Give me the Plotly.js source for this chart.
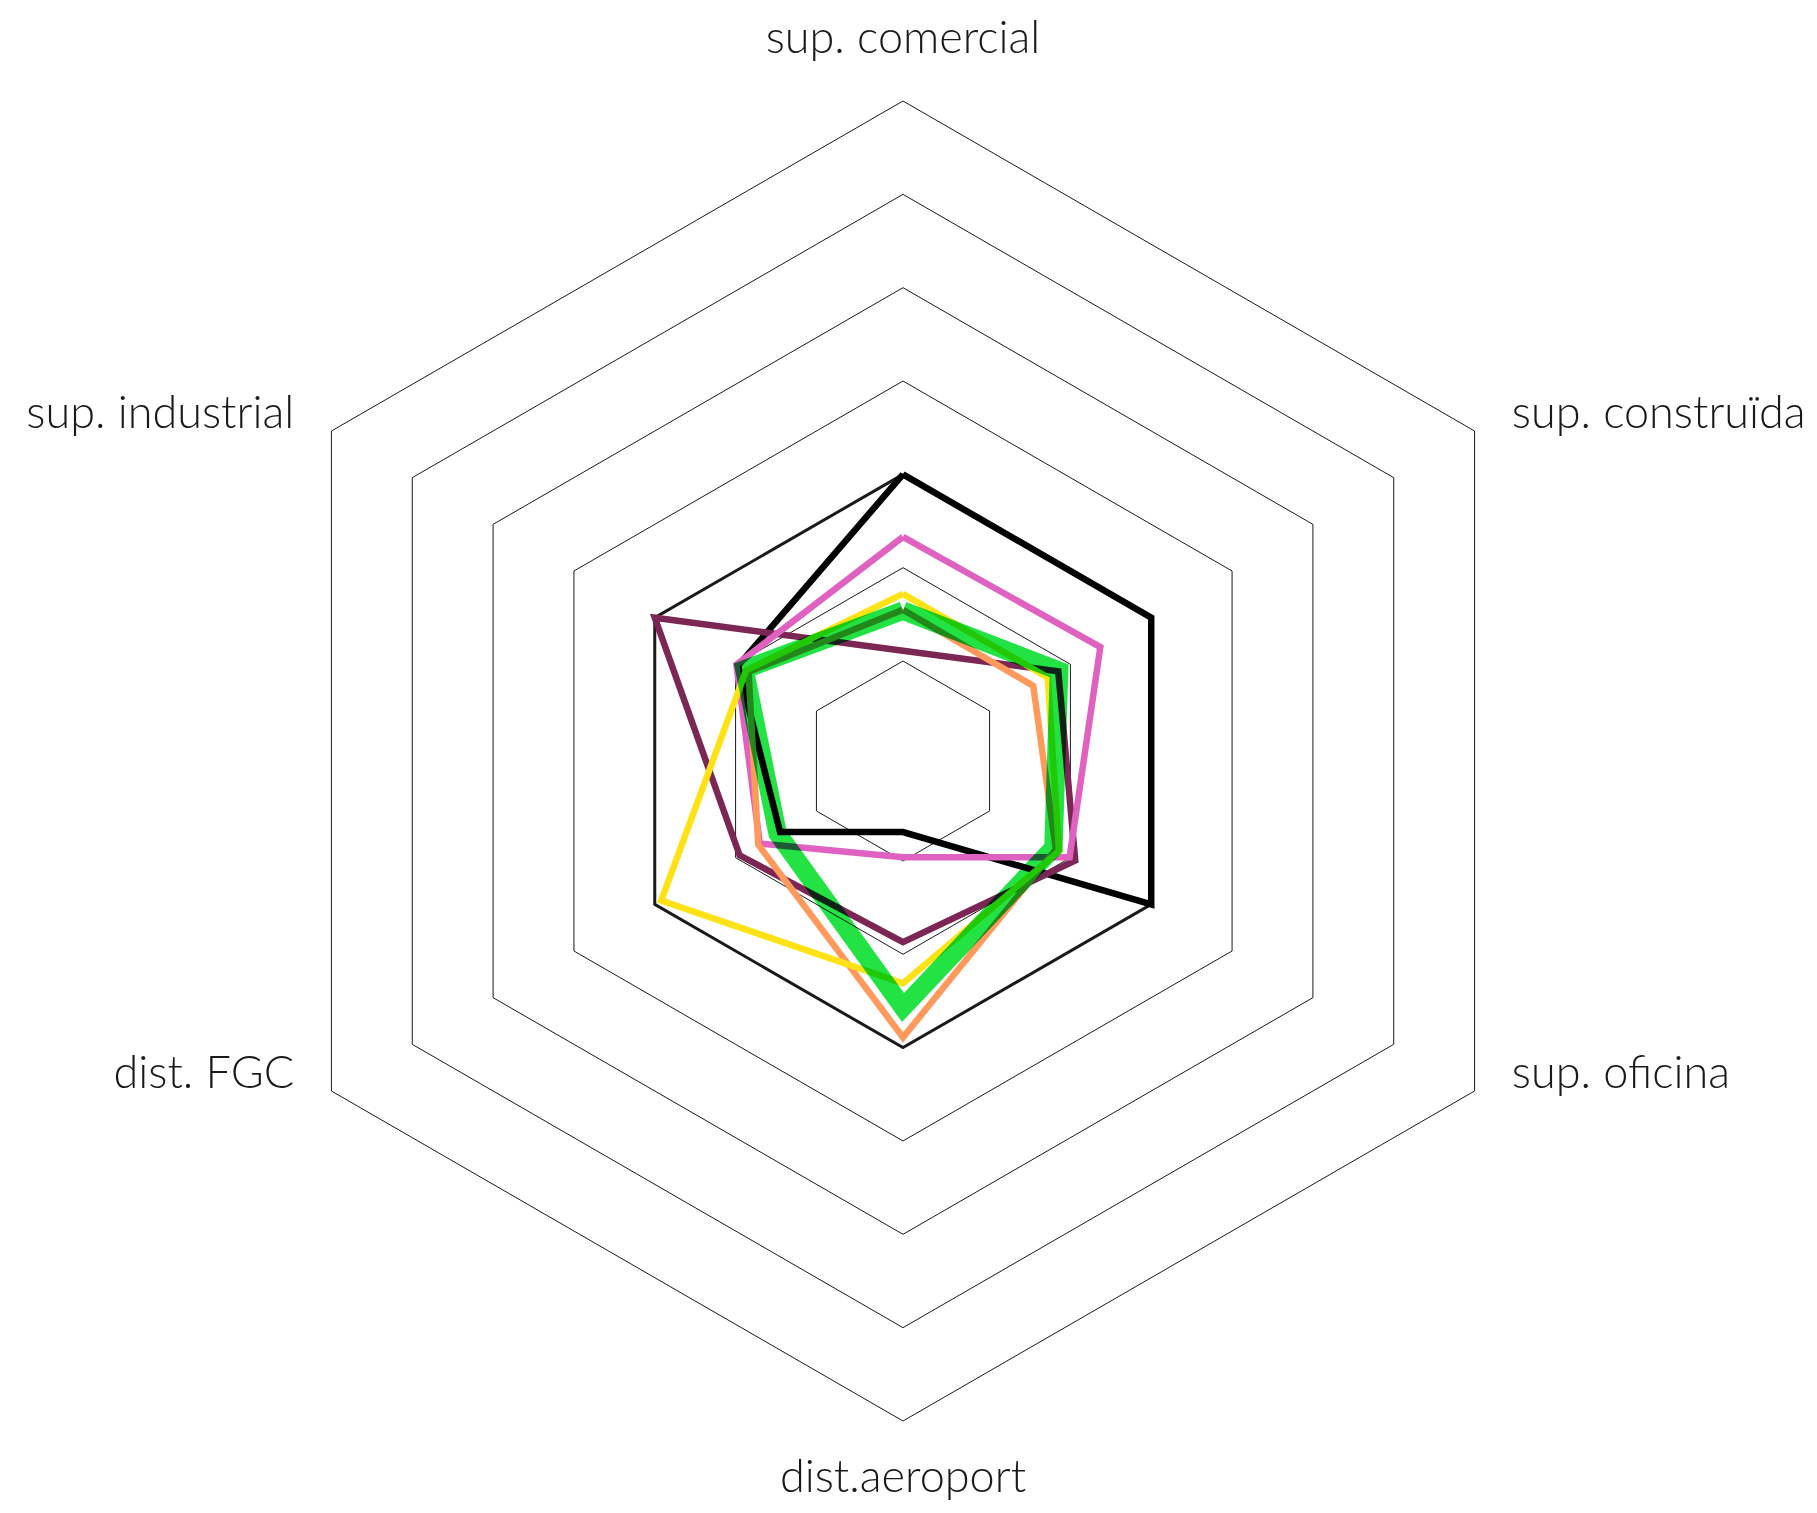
<!DOCTYPE html>
<html>
<head>
<meta charset="utf-8">
<script src="https://cdn.plot.ly/plotly-3.0.1.min.js"></script>
<style>
html,body{margin:0;padding:0;background:#fff;}
#chart{width:1817px;height:1513px;}
</style>
</head>
<body>
<div id="chart"></div>
<script>
// Axis categories (clockwise from top)
const categories = ['sup. comercial', 'sup. construïda', 'sup. oficina', 'dist.aeroport', 'dist. FGC', 'sup. industrial'];
// Radial grid values
const gridValues = [1, 2, 3, 4, 5, 6, 7];
// Series values (same order as categories)
const referenceSeries = [3, 3, 3, 3, 3, 3];
const blackSeries  = [3, 3, 3, 0.69, 1.45, 1.97];
const maroonSeries = [1.11, 1.85, 2.06, 1.87, 1.95, 3];
const pinkSeries   = [2.33, 2.37, 1.99, 0.96, 1.70, 1.99];
const orangeSeries = [1.55, 1.54, 1.82, 2.89, 1.72, 1.84];
const yellowSeries = [1.72, 1.72, 1.86, 2.31, 2.92, 1.87];
const greenSeries  = [1.54, 1.86, 1.79, 2.57, 1.48, 1.89];
// Category label placement around the outer frame
const labelPositions = ['top center', 'middle right', 'middle right', 'bottom center', 'middle left', 'middle left'];

const RMAX = gridValues[gridValues.length - 1];
const FONT = '"Lato Light", Lato, "Open Sans", sans-serif';

function closed(arr) { return arr.concat([arr[0]]); }
function makeTrace(values, color, width) {
  return {
    type: 'scatterpolar',
    subplot: 'polar',
    mode: 'lines',
    r: closed(values),
    theta: closed(categories),
    line: {color: color, width: width},
    hoverinfo: 'skip',
    showlegend: false
  };
}
function labelTrace(idx, subplot) {
  return {
    type: 'scatterpolar',
    subplot: subplot,
    mode: 'markers+text',
    r: idx.map(function () { return RMAX; }),
    theta: idx.map(function (i) { return categories[i]; }),
    text: idx.map(function (i) { return categories[i]; }),
    textposition: idx.map(function (i) { return labelPositions[i]; }),
    textfont: {family: FONT, size: 45, color: '#1a1a1a', weight: 300},
    marker: {size: 58, color: 'rgba(0,0,0,0)'},
    cliponaxis: false,
    hoverinfo: 'skip',
    showlegend: false
  };
}

const traces = [
  makeTrace(referenceSeries, '#1a1a1a', 3),
  makeTrace(blackSeries, '#000000', 6.5),
  makeTrace(maroonSeries, '#7b2654', 6.5),
  makeTrace(pinkSeries, '#df62c0', 6.5),
  makeTrace(orangeSeries, '#ff9a5c', 6.5),
  makeTrace(yellowSeries, '#ffe216', 6.5),
  makeTrace(greenSeries, '#22e244', 18.5),
  labelTrace([0, 3], 'polar'),
  labelTrace([1, 2, 4, 5], 'polar2')
];

// plot area 1320 x 1341: the chart sits in the lower 1320 px, side labels are lifted slightly
const PH = 1341, SIDE_LIFT = 14;
const hiddenAngular = {
  type: 'category', categoryarray: categories, direction: 'clockwise', rotation: 90,
  showgrid: false, showline: false, ticks: '', showticklabels: false
};

const layout = {
  width: 1817,
  height: 1513,
  paper_bgcolor: '#ffffff',
  plot_bgcolor: '#ffffff',
  margin: {l: 243, r: 254, t: 80, b: 92, pad: 0},
  showlegend: false,
  font: {family: FONT, color: '#1a1a1a', size: 45},
  polar: {
    domain: {x: [0, 1], y: [0, 1320 / PH]},
    bgcolor: '#ffffff',
    gridshape: 'linear',
    radialaxis: {
      range: [-0.071, RMAX],
      tickvals: gridValues,
      showticklabels: false,
      ticks: '',
      showline: false,
      gridcolor: '#1a1a1a',
      gridwidth: 1
    },
    angularaxis: {
      type: 'category',
      categoryarray: categories,
      direction: 'clockwise',
      rotation: 90,
      showgrid: false,
      showline: true,
      linecolor: '#1a1a1a',
      linewidth: 1,
      ticks: '',
      showticklabels: false
    }
  },
  polar2: {
    domain: {x: [0, 1], y: [SIDE_LIFT / PH, (1320 + SIDE_LIFT) / PH]},
    bgcolor: 'rgba(0,0,0,0)',
    gridshape: 'linear',
    radialaxis: {range: [-0.071, RMAX], visible: false, showgrid: false},
    angularaxis: hiddenAngular
  }
};

Plotly.newPlot('chart', traces, layout, {staticPlot: true, displayModeBar: false}).then(function () {
  const groups = document.querySelectorAll('.polarlayer .scatterlayer .trace');
  // the green series blends multiplicatively with the lines beneath it
  groups.forEach(function (g) {
    const p = g.querySelector('path.js-line');
    if (p && (p.style.stroke || '').replace(/\s/g, '') === 'rgb(34,226,68)') g.style.mixBlendMode = 'multiply';
  });
});
</script>
</body>
</html>
